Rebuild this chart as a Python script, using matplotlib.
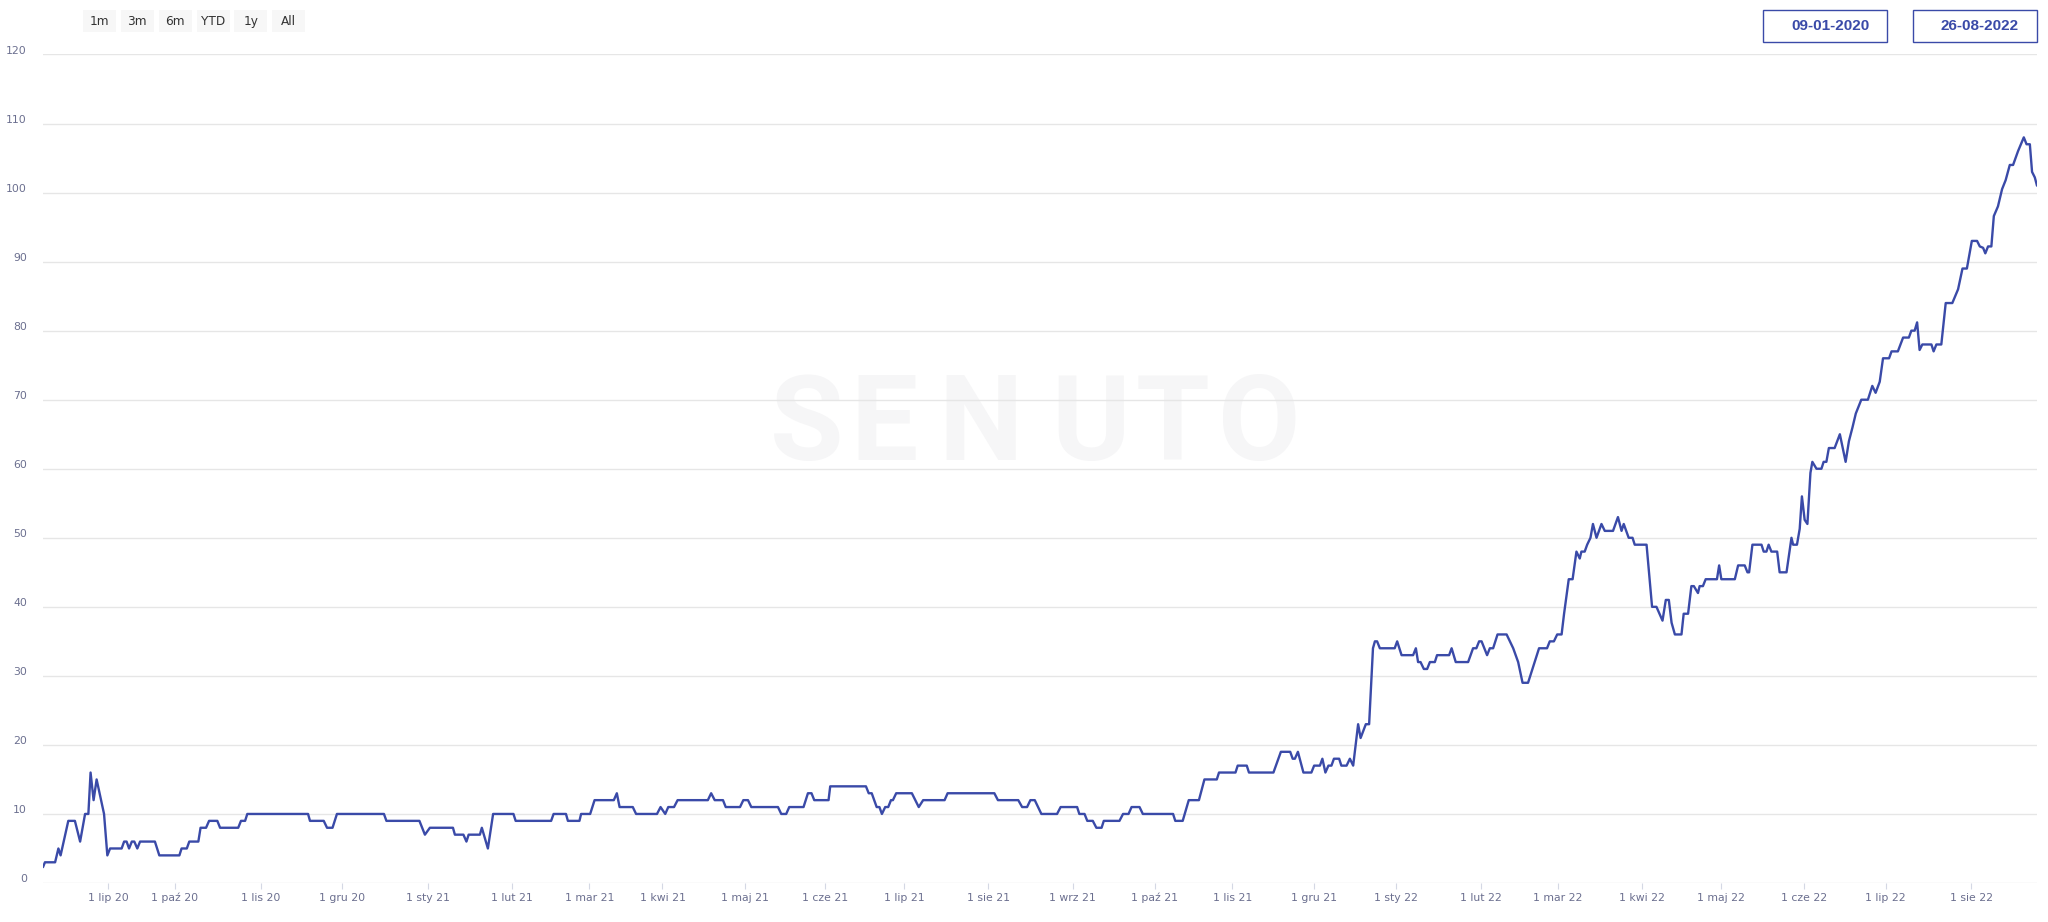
import matplotlib
matplotlib.use("Agg")
import matplotlib.pyplot as plt
import matplotlib.transforms as mtransforms
from matplotlib.patches import Rectangle

# ---------------- data (ordinal point positions, as on the Highcharts ordinal axis) ----------------
point_pos = [0.0, 0.7, 4.4, 5.6, 6.4, 9.2, 11.6, 13.5, 15.3, 16.5, 17.3, 18.4, 19.5, 22.2, 23.4, 24.4,
             28.6, 29.5, 30.4, 31.3, 32.3, 33.2, 34.3, 35.3, 40.7, 42.3, 49.6, 50.4, 52.3, 53.2, 56.5,
             57.3, 59.3, 60.4, 63.4, 64.4, 71.0, 72.0, 73.5, 74.3, 96.4, 97.1, 102.1, 103.3, 105.3,
             106.9, 124.0, 124.9, 136.9, 138.9, 140.7, 149.1, 149.8, 152.9, 154.0, 154.8, 158.9, 159.6,
             161.8, 163.7, 171.1, 171.9, 184.8, 185.7, 190.2, 190.9, 195.1, 195.7, 199.0, 200.6, 207.6,
             208.7, 209.7, 214.5, 215.7, 223.3, 224.6, 226.3, 227.4, 229.5, 230.8, 241.8, 243.0, 244.3,
             247.3, 248.3, 253.5, 254.7, 256.4, 257.6, 267.3, 268.5, 270.3, 271.4, 276.6, 278.2, 279.5,
             280.5, 285.7, 286.3, 299.3, 300.3, 301.4, 303.2, 304.2, 305.1, 306.3, 307.4, 308.4, 309.1,
             310.3, 316.0, 318.5, 320.1, 327.9, 329.0, 346.0, 347.3, 354.7, 356.1, 357.9, 359.1, 360.7,
             363.1, 368.8, 370.1, 376.1, 376.9, 378.8, 379.8, 381.8, 383.1, 385.0, 385.8, 391.5, 392.8,
             394.8, 395.9, 398.8, 400.0, 411.0, 411.8, 414.5, 416.7, 420.4, 422.4, 426.9, 427.7, 433.7,
             434.5, 437.8, 438.6, 447.5, 450.2, 453.6, 454.5, 455.3, 456.4, 458.4, 461.3, 462.3, 464.4,
             465.3, 466.4, 467.5, 468.6, 469.5, 471.4, 472.2, 474.1, 475.3, 476.5, 478.3, 479.2, 481.1,
             482.3, 483.7, 484.4, 485.2, 486.2, 491.6, 492.5, 494.1, 498.3, 499.3, 500.1, 501.0, 502.2,
             503.4, 504.4, 506.2, 507.0, 511.4, 512.3, 513.8, 518.3, 520.1, 521.3, 522.3, 523.2, 525.2,
             526.2, 527.4, 529.0, 532.3, 534.7, 536.5, 538.1, 540.1, 541.7, 542.5, 544.1, 547.0, 548.0,
             549.5, 550.7, 552.3, 553.2, 554.9, 556.3, 557.7, 558.9, 559.5, 560.7, 561.6, 562.8, 563.7,
             565.0, 566.8, 568.0, 571.0, 572.8, 574.1, 574.9, 576.7, 578.1, 578.9, 583.2, 585.2, 586.8,
             589.0, 590.2, 591.3, 592.3, 593.5, 595.9, 596.7, 598.3, 599.5, 600.4, 601.9, 602.5, 603.7,
             604.7, 608.8, 609.6, 610.4, 615.3, 616.5, 618.9, 619.9, 620.5, 621.7, 625.0, 625.8, 626.8,
             627.6, 628.6, 630.7, 631.6, 634.1, 635.9, 636.5, 637.9, 638.9, 639.7, 640.7, 641.7, 642.8,
             643.5, 645.0, 646.8, 647.6, 648.6, 649.5, 651.6, 653.5, 654.4, 655.6, 656.8, 658.1, 659.3,
             661.3, 663.7, 665.3, 666.5, 668.0, 669.2, 671.4, 672.3, 674.6, 676.5, 678.6, 679.5, 680.7,
             681.6, 682.5, 683.5, 686.8, 687.6, 688.6, 690.4, 692.0, 694.4, 696.5, 698.1, 699.7, 701.5,
             703.4, 704.4, 705.6, 706.4, 707.4, 708.6, 709.5, 711.0, 712.5, 713.8, 715.3, 716.5, 718.3,
             720.4, 721.4, 722.6, 723.4, 724.4, 725.2]

keyword_count = [2.3, 3, 3, 5, 4, 9, 9, 6, 10, 10, 16, 12, 15, 10, 4, 5,
                 5, 6, 6, 5, 6, 6, 5, 6, 6, 4, 4, 5, 5, 6, 6,
                 8, 8, 9, 9, 8, 8, 9, 9, 10, 10, 9, 9, 8, 8,
                 10, 10, 9, 9, 7, 8, 8, 7, 7, 6, 7, 7, 8,
                 5, 10, 10, 9, 9, 10, 10, 9, 9, 10, 10, 12, 12,
                 13, 11, 11, 10, 10, 11, 10, 11, 11, 12, 12, 13, 12,
                 12, 11, 11, 12, 12, 11, 11, 10, 10, 11, 11, 13, 13,
                 12, 12, 14, 14, 13, 13, 11, 11, 10, 11, 11, 12, 12,
                 13, 13, 11, 12, 12, 13, 13, 12, 12, 11, 11, 12, 12,
                 10, 10, 11, 11, 10, 10, 9, 9, 8, 8, 9, 9, 10,
                 10, 11, 11, 10, 10, 9, 9, 12, 12, 15, 15, 16, 16,
                 17, 17, 16, 16, 19, 19, 18, 18, 19, 16, 16, 17, 17,
                 18, 16, 17, 17, 18, 18, 17, 17, 18, 17, 23, 21, 23,
                 23, 34, 35, 35, 34, 34, 35, 33, 33, 34, 32, 32, 31,
                 31, 32, 32, 33, 33, 34, 32, 32, 34, 34, 35, 35, 33,
                 34, 34, 36, 36, 34, 32, 29, 29, 31, 32, 34, 34, 35,
                 35, 36, 36, 39, 44, 44, 48, 47, 48, 48, 49, 50, 52,
                 50, 52, 51, 51, 53, 51, 52, 50, 50, 49, 49, 40, 40,
                 38, 41, 41, 37.7, 36, 36, 39, 39, 43, 43, 42, 43, 43,
                 44, 44, 46, 44, 44, 46, 46, 45, 45, 49, 49, 48, 48,
                 49, 48, 48, 45, 45, 50, 49, 49, 51.3, 56, 52.6, 52, 59.4,
                 61, 60, 60, 61, 61, 63, 63, 65, 63.3, 61, 64, 66, 68,
                 70, 70, 72, 71, 72.6, 76, 76, 77, 77, 79, 79, 80, 80,
                 81.2, 77.2, 78, 78, 77, 78, 78, 84, 84, 86, 89, 89, 93,
                 93, 92.2, 92, 91.2, 92.2, 92.2, 96.6, 98, 100.5, 101.8, 104, 104, 106,
                 108, 107, 107, 103, 102.2, 101]

tick_pos = [23.6, 48.0, 79.2, 108.9, 139.9, 170.7, 198.7, 225.3, 255.3, 284.4, 313.1, 343.8,
            374.5, 404.4, 432.6, 462.4, 492.0, 522.9, 550.9, 581.7, 610.2, 640.5, 670.2, 701.3]
tick_labels = ["1 lip 20", "1 paź 20", "1 lis 20", "1 gru 20", "1 sty 21", "1 lut 21",
               "1 mar 21", "1 kwi 21", "1 maj 21", "1 cze 21", "1 lip 21", "1 sie 21",
               "1 wrz 21", "1 paź 21", "1 lis 21", "1 gru 21", "1 sty 22", "1 lut 22",
               "1 mar 22", "1 kwi 22", "1 maj 22", "1 cze 22", "1 lip 22", "1 sie 22"]
y_ticks = [0, 10, 20, 30, 40, 50, 60, 70, 80, 90, 100, 110, 120]
range_buttons = ["1m", "3m", "6m", "YTD", "1y", "All"]
date_from = "09-01-2020"
date_to = "26-08-2022"
watermark = "SENUTO"

# ---------------- styling ----------------
LINE = "#3a4aa8"
LABEL = "#6b6f8f"
GRID = "#e6e6e6"

plt.rcParams["font.family"] = ["DejaVu Sans"]

W, H = 2048, 922
fig = plt.figure(figsize=(W / 100, H / 100), dpi=100)
fig.patch.set_facecolor("white")


def fx(px):
    return px / W


def fy(py):
    return 1 - py / H


ax = fig.add_axes([fx(43), fy(883), fx(2037) - fx(43), fy(54.5) - fy(883)])
ax.set_facecolor("white")

ax.plot(point_pos, keyword_count, color=LINE, lw=1.7, solid_joinstyle="round",
        solid_capstyle="round", zorder=3)

ax.set_xlim(0, 725.2)
ax.set_ylim(0, 120)
for s in ax.spines.values():
    s.set_visible(False)

ax.set_yticks(y_ticks)
ax.yaxis.grid(True, color=GRID, lw=1.0)
ax.set_axisbelow(True)
ax.tick_params(axis="y", length=0, pad=11.5, labelsize=7.8, labelcolor=LABEL)
offset = mtransforms.ScaledTranslation(0, 5 / 100, fig.dpi_scale_trans)
for lab in ax.get_yticklabels():
    lab.set_transform(lab.get_transform() + offset)

ax.set_xticks(tick_pos)
ax.set_xticklabels(tick_labels)
ax.tick_params(axis="x", length=4.5, width=0.8, color="#d4d8e4", pad=8.7,
               labelsize=7.8, labelcolor=LABEL)
for lab in ax.get_xticklabels():
    lab.set_verticalalignment("baseline")

# watermark (letters spaced like the logo), drawn beneath the grid lines
letter_x = [807, 884, 981, 1091, 1173, 1259]
for ch, lx in zip(watermark, letter_x):
    ax.text(fx(lx), fy(427), ch, transform=fig.transFigure, ha="center", va="center",
            fontsize=86, fontweight="bold", family="Roboto", color="#f6f6f7", zorder=0.2)

# range selector buttons
bx = [82.7, 120.7, 158.7, 196.7, 234.3, 272.3]
for x0, lbl in zip(bx, range_buttons):
    fig.patches.append(Rectangle((fx(x0), fy(32.3)), fx(33), fy(10) - fy(32.3),
                                 transform=fig.transFigure, facecolor="#f7f7f7",
                                 edgecolor="none", zorder=1))
    fig.text(fx(x0 + 16.5), fy(21.2), lbl, ha="center", va="center", fontsize=8.7,
             color="#333333", zorder=2)

# date input boxes
for x0, x1, txt in [(1763, 1887, date_from), (1913, 2037, date_to)]:
    fig.patches.append(Rectangle((fx(x0), fy(41.7)), fx(x1 - x0), fy(10) - fy(41.7),
                                 transform=fig.transFigure, facecolor="white",
                                 edgecolor=LINE, lw=1.0, zorder=1))
    fig.text(fx((x0 + x1) / 2 + 5), fy(26), txt, ha="center", va="center", fontsize=11,
             fontweight="bold", family="Liberation Sans", color=LINE, zorder=2)

fig.savefig("out.png", dpi=100, facecolor="white")
